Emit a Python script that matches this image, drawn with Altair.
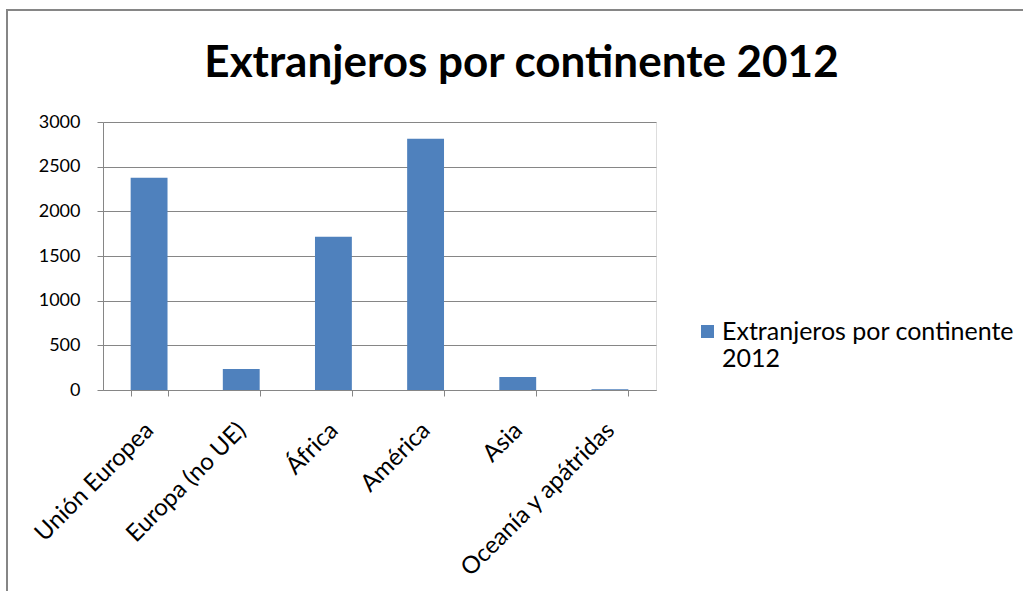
import altair as alt
import pandas as pd

categories = ["Unión Europea", "Europa (no UE)", "África", "América", "Asia", "Oceanía y apátridas"]
values = [2375, 235, 1715, 2812, 146, 8]
series_name = "Extranjeros por continente 2012"

df = pd.DataFrame({"Continente": categories, "Valor": values, "Serie": [series_name] * len(categories)})

FONT = "Lato"
GRAY = "#868686"
BLUE = "#4F81BD"

bars = alt.Chart(df).mark_bar(color=BLUE).encode(
    x=alt.X("Continente:N", sort=categories, title=None,
            scale=alt.Scale(paddingInner=0.6, paddingOuter=0.3),
            axis=alt.Axis(labelAngle=-45, labelFontSize=24, labelFont=FONT, labelColor="black",
                          tickBand="extent", tickSize=6, tickColor=GRAY, domainColor=GRAY,
                          labelPadding=22, labelOffset=-8, labelLimit=300)),
    y=alt.Y("Valor:Q", title=None,
            scale=alt.Scale(domain=[0, 3000], nice=False),
            axis=alt.Axis(values=[0, 500, 1000, 1500, 2000, 2500, 3000], format="d",
                          labelFontSize=18, labelFont=FONT, labelColor="black", tickSize=6,
                          tickColor=GRAY, domainColor=GRAY, gridColor=GRAY, grid=True,
                          labelPadding=17)),
    fill=alt.Fill("Serie:N", scale=alt.Scale(range=[BLUE]),
                  legend=alt.Legend(title=None, orient="none", legendX=592, legendY=197,
                                    symbolType="square", symbolSize=169, symbolStrokeWidth=0,
                                    labelFontSize=25, labelFont=FONT, labelColor="black",
                                    labelLimit=400, labelOffset=2,
                                    labelExpr="['Extranjeros por continente', '2012']")),
)

frame = alt.Chart(df).mark_rect(fill=None, stroke=GRAY, strokeWidth=1.5, clip=False).encode(
    x=alt.value(-96), x2=alt.value(950), y=alt.value(-112), y2=alt.value(500)
)

chart = alt.layer(frame, bars).properties(
    width=553, height=268,
    padding={"left": 103, "top": 122, "right": 367, "bottom": 201},
    autosize=alt.AutoSizeParams(type="none"),
    title=alt.TitleParams(series_name, anchor="middle", dx=142, dy=109, fontSize=44, font=FONT,
                          fontWeight="bold", color="black", offset=32),
).configure_view(stroke=None).configure(background="white")

chart.save("out.html", embed_options={"renderer": "svg", "actions": False})
